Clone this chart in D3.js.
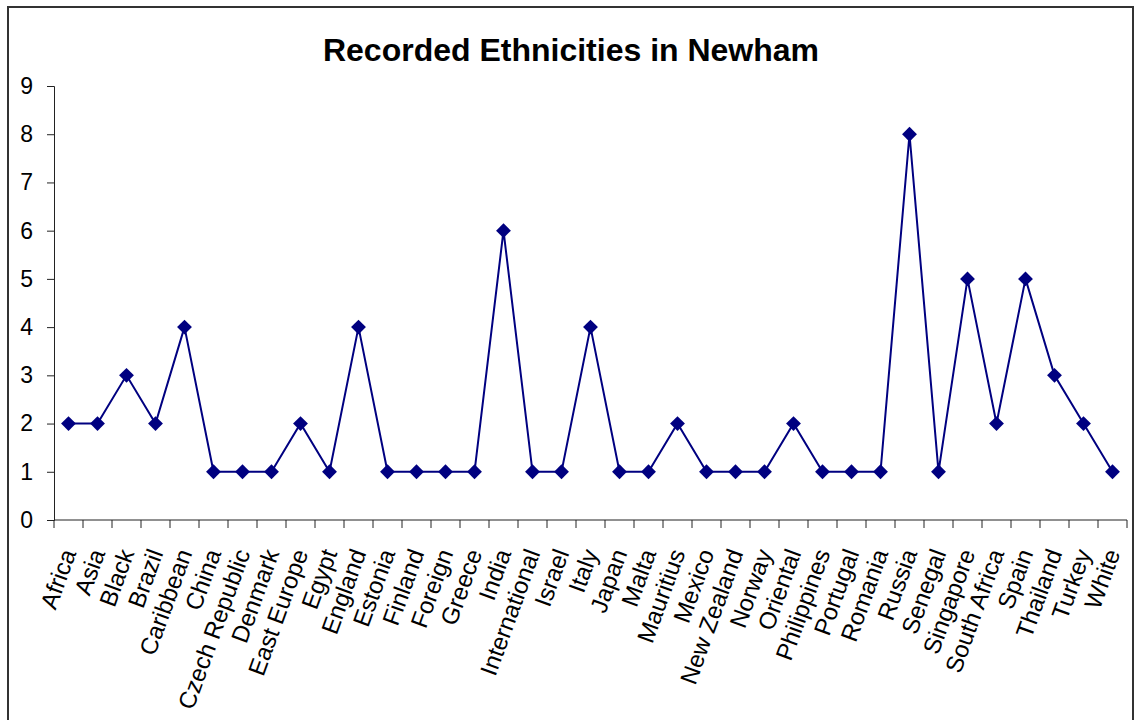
<!DOCTYPE html>
<html><head><meta charset="utf-8">
<script src="https://cdn.jsdelivr.net/npm/d3@7"></script>
<style>body{margin:0;background:#fff;}svg{display:block;}text{font-family:"Liberation Sans",Arial,sans-serif;}</style>
</head><body>
<svg id="c" width="1135" height="720"></svg>
<script>
const categories = ["Africa","Asia","Black","Brazil","Caribbean","China","Czech Republic","Denmark","East Europe","Egypt","England","Estonia","Finland","Foreign","Greece","India","International","Israel","Italy","Japan","Malta","Mauritius","Mexico","New Zealand","Norway","Oriental","Philippines","Portugal","Romania","Russia","Senegal","Singapore","South Africa","Spain","Thailand","Turkey","White"];
const values = [2,2,3,2,4,1,1,1,2,1,4,1,1,1,1,6,1,1,4,1,1,2,1,1,1,2,1,1,1,8,1,5,2,5,3,2,1];
const yTicks = [0,1,2,3,4,5,6,7,8,9];
const title = "Recorded Ethnicities in Newham";

const svg = d3.select("#c");
svg.append("path").attr("d","M8,725 V7 H1133 V725").attr("fill","none").attr("stroke","#333").attr("stroke-width",2);

svg.append("text").attr("x",571).attr("y",61).attr("text-anchor","middle")
  .attr("font-size",32).attr("font-weight","bold").text(title);

const pL=54, pR=1127, pT=86, pB=520;
const x = d3.scaleBand().domain(categories).range([pL,pR]);
const y = d3.scaleLinear().domain([0,9]).range([pB,pT]);

const ya = svg.append("g").attr("transform",`translate(${pL},0)`)
  .call(d3.axisLeft(y).tickValues(yTicks).tickSize(7).tickPadding(14).tickFormat(d3.format("d")));
ya.selectAll("text").attr("font-size",23).attr("font-family","'Liberation Sans',Arial,sans-serif").attr("fill","#000");
ya.selectAll("line,path").attr("stroke","#222");

const xa = svg.append("g").attr("transform",`translate(0,${pB})`);
xa.append("line").attr("x1",pL).attr("x2",pR).attr("stroke","#222");
const bounds = categories.map(c=> x(c)).concat([pR]);
xa.selectAll("line.t").data(bounds).join("line").attr("class","t")
  .attr("x1",d=>d).attr("x2",d=>d).attr("y1",0).attr("y2",8).attr("stroke","#222");
xa.selectAll("text").data(categories).join("text")
  .attr("font-size",24).attr("text-anchor","end")
  .attr("transform",d=>`translate(${x(d)+x.bandwidth()/2+8},${33}) rotate(-70)`)
  .text(d=>d);

const pts = categories.map((c,i)=>[x(c)+x.bandwidth()/2, y(values[i])]);
svg.append("path").attr("d",d3.line()(pts)).attr("fill","none").attr("stroke","#000080").attr("stroke-width",2);
svg.selectAll("path.m").data(pts).join("path").attr("class","m")
  .attr("d",d3.symbol().type(d3.symbolSquare).size(110))
  .attr("transform",d=>`translate(${d[0]},${d[1]}) rotate(45)`)
  .attr("fill","#000080");
</script>
</body></html>
